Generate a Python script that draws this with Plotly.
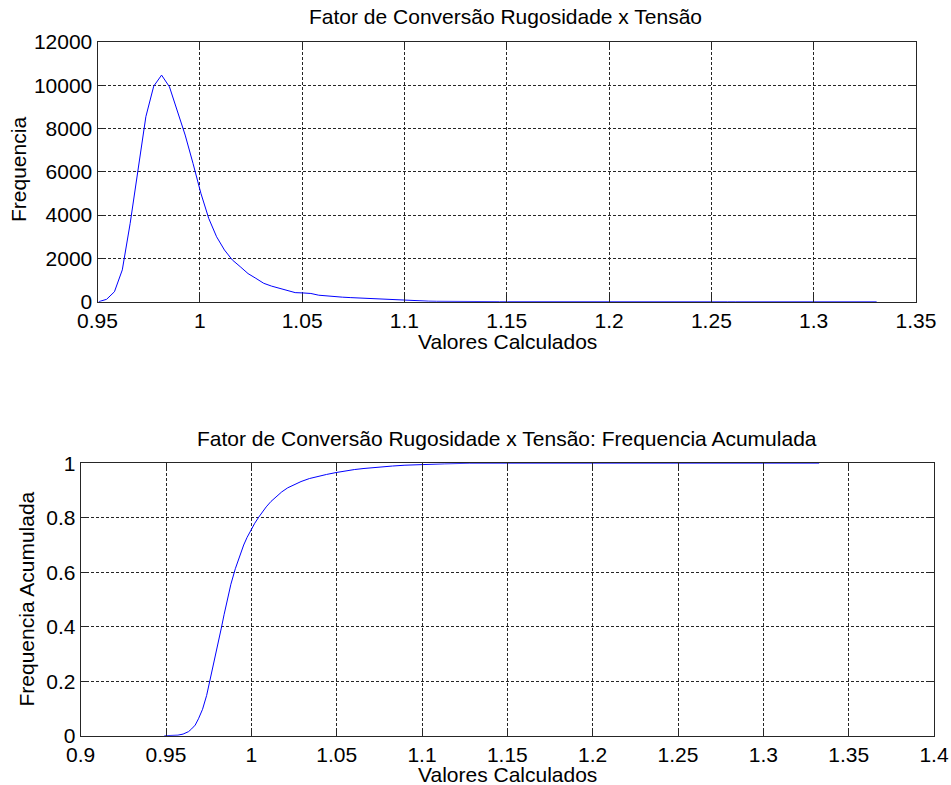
import numpy as np
import plotly.graph_objects as go

# Histogram: 100 bins, counts per bin
bin_first_center = 0.9506
bin_width = 0.00384
counts = [
    1, 110, 460, 1470, 3620, 6080, 8550, 9960, 10470, 9930,
    8780, 7700, 6390, 5010, 3850, 3000, 2390, 1930, 1620, 1300,
    1080, 850, 720, 620, 500, 420, 405, 380, 300, 260,
    235, 210, 190, 170, 155, 130, 110, 90, 72, 60,
    45, 32, 25, 18, 12, 9, 8, 7, 6, 5,
    5, 4, 4, 3, 3, 3, 2, 2, 2, 2,
    1, 1, 1, 1, 1, 1, 1, 1, 0, 1,
    0, 1, 0, 0, 1, 0, 0, 0, 0, 0,
    0, 0, 0, 1, 0, 0, 0, 0, 0, 0,
    0, 0, 0, 0, 0, 0, 0, 0, 0, 1,
]
bin_centers = bin_first_center + bin_width * np.arange(len(counts))

# Cumulative frequency curve
cdf_x = [0.9490, 0.9570, 0.9600, 0.9632, 0.9650, 0.9671, 0.9690, 0.9714,
         0.9738, 0.9754, 0.9772, 0.9790, 0.9807, 0.9824, 0.9840, 0.9856,
         0.9880, 0.9906, 0.9930, 0.9955, 0.9975, 1.0000, 1.0020, 1.0044,
         1.0065, 1.0087, 1.0115, 1.0145, 1.0178, 1.0213, 1.0250, 1.0291,
         1.0340, 1.0388, 1.0440, 1.0496, 1.0550, 1.0603, 1.0660, 1.0720,
         1.0827, 1.0900, 1.1000, 1.1130, 1.1276, 1.3327]
cdf_y = [0.000, 0.002, 0.006, 0.015, 0.025, 0.039, 0.062, 0.097,
         0.148, 0.192, 0.243, 0.295, 0.345, 0.395, 0.444, 0.492,
         0.556, 0.613, 0.660, 0.700, 0.728, 0.758, 0.780, 0.803,
         0.822, 0.840, 0.860, 0.878, 0.895, 0.910, 0.922, 0.933,
         0.944, 0.952, 0.959, 0.966, 0.972, 0.977, 0.981, 0.985,
         0.990, 0.993, 0.996, 0.998, 1.000, 1.000]

top_title = "Fator de Conversão Rugosidade x Tensão"
bottom_title = "Fator de Conversão Rugosidade x Tensão: Frequencia Acumulada"
x_label = "Valores Calculados"
top_ylabel = "Frequencia"
bottom_ylabel = "Frequencia Acumulada"

W, H = 951, 785
FONT = "Liberation Sans, Arial, sans-serif"
FS = 21
LINE_BLUE = "#0000FF"


def px_x(v):
    return v / W


def px_y(v):
    return 1 - v / H


fig = go.Figure()
fig.add_trace(go.Scatter(x=bin_centers, y=counts, mode="lines",
                         line=dict(color=LINE_BLUE, width=1),
                         xaxis="x", yaxis="y", showlegend=False))
fig.add_trace(go.Scatter(x=cdf_x, y=cdf_y, mode="lines",
                         line=dict(color=LINE_BLUE, width=1),
                         xaxis="x2", yaxis="y2", showlegend=False))

axis_common = dict(
    showline=True, linecolor="#262626", linewidth=1, mirror="ticks",
    ticks="inside", ticklen=7, tickcolor="#262626", tickwidth=1,
    showgrid=True, gridcolor="#262626", gridwidth=1, griddash="3px,2px",
    zeroline=False, tickfont=dict(family=FONT, size=FS, color="black"),
    automargin=False, fixedrange=True,
)

fig.update_layout(
    width=W, height=H,
    margin=dict(l=0, r=0, t=0, b=0),
    paper_bgcolor="white", plot_bgcolor="white",
    font=dict(family=FONT, size=FS, color="black"),
    xaxis=dict(domain=[px_x(97.5), px_x(916)], range=[0.95, 1.35],
               tick0=0.95, dtick=0.05, anchor="y", **axis_common),
    yaxis=dict(domain=[px_y(301.7), px_y(42)], range=[0, 12000],
               tick0=0, dtick=2000, tickformat="d", anchor="x", **axis_common),
    xaxis2=dict(domain=[px_x(80.7), px_x(934)], range=[0.9, 1.4],
                tick0=0.9, dtick=0.05, anchor="y2", **axis_common),
    yaxis2=dict(domain=[px_y(735.7), px_y(463.3)], range=[0, 1],
                tick0=0, dtick=0.2, anchor="x2", **axis_common),
)

annotations = [
    dict(text=top_title, x=px_x(505), y=px_y(17)),
    dict(text=bottom_title, x=px_x(507), y=px_y(438)),
    dict(text=x_label, x=px_x(507), y=px_y(341)),
    dict(text=x_label, x=px_x(507), y=px_y(774.5)),
    dict(text=top_ylabel, x=px_x(19), y=px_y(170), textangle=-90),
    dict(text=bottom_ylabel, x=px_x(26), y=px_y(599.5), textangle=-90),
]
for a in annotations:
    a.update(xref="paper", yref="paper", showarrow=False,
             xanchor="center", yanchor="middle",
             font=dict(family=FONT, size=FS, color="black"))
fig.update_layout(annotations=annotations)

fig.write_html("out.html")
